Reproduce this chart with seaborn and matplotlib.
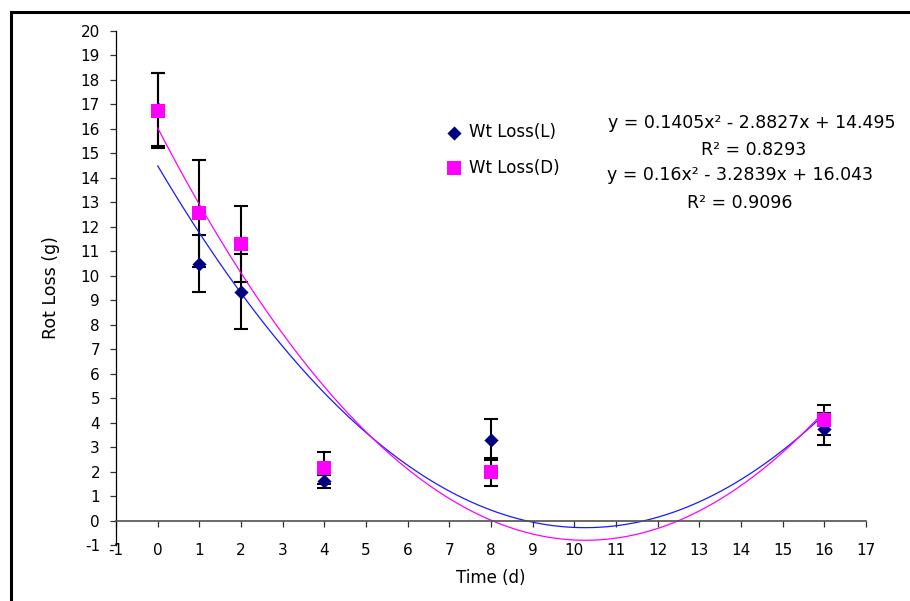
import matplotlib
matplotlib.use("Agg")
import matplotlib.pyplot as plt
from matplotlib.patches import Rectangle
import numpy as np
import pandas as pd
import seaborn as sns

# Sampling days and mean rot loss (g) with error bars for each treatment
times = [0, 1, 2, 4, 8, 16]
loss_L = [16.8, 10.5, 9.35, 1.6, 3.3, 3.75]
err_L = [1.5, 1.15, 1.53, 0.27, 0.83, 0.65]
loss_D = [16.75, 12.55, 11.3, 2.15, 1.97, 4.1]
err_D = [1.53, 2.2, 1.56, 0.65, 0.57, 0.6]

series_names = ["Wt Loss(L)", "Wt Loss(D)"]

# Quadratic trendline coefficients (a, b, c for a*x^2 + b*x + c) and R^2
coef_L = [0.1405, -2.8827, 14.495]
coef_D = [0.16, -3.2839, 16.043]
r2_L = 0.8293
r2_D = 0.9096

x_ticks = list(range(-1, 18))
y_ticks = list(range(-1, 21))

sns.set_style("white")
plt.rcParams["font.family"] = ["DejaVu Sans"]
plt.rcParams["axes.unicode_minus"] = False
plt.rcParams["text.color"] = "black"
plt.rcParams["axes.labelcolor"] = "black"

df = pd.DataFrame({
    "Time": times * 2,
    "Loss": loss_L + loss_D,
    "Err": err_L + err_D,
    "Series": [series_names[0]] * len(times) + [series_names[1]] * len(times),
})

W, H = 910, 601
fig = plt.figure(figsize=(W / 100, H / 100), dpi=100)
ax = fig.add_axes([116 / W, 1 - 545 / H, 750 / W, 514 / H])

# error bars first so the markers sit on top
for name in series_names:
    sub = df[df["Series"] == name]
    ax.errorbar(sub["Time"], sub["Loss"], yerr=sub["Err"], fmt="none",
                ecolor="black", elinewidth=1.5, capsize=5, capthick=1.5,
                zorder=2)

# fitted quadratic trendlines over the sampled range
xs = np.linspace(min(times), max(times), 200)
trend = pd.DataFrame({
    "Time": np.concatenate([xs, xs]),
    "Fit": np.concatenate([np.polyval(coef_L, xs), np.polyval(coef_D, xs)]),
    "Series": [series_names[0]] * len(xs) + [series_names[1]] * len(xs),
})
sns.lineplot(data=trend, x="Time", y="Fit", hue="Series",
             palette={series_names[0]: "#1a1aff", series_names[1]: "#ff00ff"},
             linewidth=0.9, legend=False, ax=ax, zorder=2)

sub_L = df[df["Series"] == series_names[0]]
sub_D = df[df["Series"] == series_names[1]]
sns.scatterplot(data=sub_L, x="Time", y="Loss", marker="D", s=52,
                color="#000080", linewidth=0, label=series_names[0],
                ax=ax, zorder=3)
sns.scatterplot(data=sub_D, x="Time", y="Loss", marker="s", s=88,
                color="#ff00ff", linewidth=0, label=series_names[1],
                ax=ax, zorder=4)

ax.set_xlim(-1, 17)
ax.set_ylim(-1, 20)
ax.set_xticks(x_ticks)
ax.set_yticks(y_ticks)

for side in ("top", "right"):
    ax.spines[side].set_visible(False)
ax.spines["left"].set_color("black")
ax.spines["left"].set_linewidth(0.9)
ax.spines["bottom"].set_position(("data", 0))
ax.spines["bottom"].set_color("#505050")
ax.spines["bottom"].set_linewidth(1.2)

ax.tick_params(axis="x", direction="out", length=4, width=0.9,
               color="#303030", pad=12.5, labelsize=11, labelcolor="black")
ax.tick_params(axis="y", direction="out", length=4.5, width=0.9,
               color="#303030", pad=7, labelsize=11, labelcolor="black")
ax.tick_params(axis="both", which="both", bottom=True, left=True)
ax.grid(False)

ax.set_xlabel("Time (d)", fontsize=12)
ax.set_ylabel("Rot Loss (g)", fontsize=12.5)
ax.xaxis.set_label_coords(0.5, -0.046)
ax.yaxis.set_label_coords(-0.074, 0.5)

leg = ax.legend(loc="center left", bbox_to_anchor=(0.429, 0.7685),
                frameon=False, fontsize=12, handlelength=1.0,
                handletextpad=0.35, labelspacing=1.05, borderpad=0)

eq_fs = 12.5
ax.text(0.848, 0.821,
        f"y = {coef_L[0]}x\u00b2 - {abs(coef_L[1])}x + {coef_L[2]}",
        transform=ax.transAxes, ha="center", va="center", fontsize=eq_fs)
ax.text(0.850, 0.768, f"R\u00b2 = {r2_L}",
        transform=ax.transAxes, ha="center", va="center", fontsize=eq_fs)
ax.text(0.832, 0.720,
        f"y = {coef_D[0]}x\u00b2 - {abs(coef_D[1])}x + {coef_D[2]}",
        transform=ax.transAxes, ha="center", va="center", fontsize=eq_fs)
ax.text(0.832, 0.665, f"R\u00b2 = {r2_D}",
        transform=ax.transAxes, ha="center", va="center", fontsize=eq_fs)

# chart-area border running off the right and bottom edges
fig.patches.append(Rectangle((10.5 / W, -0.05), 1.2, 1 - 12 / H + 0.05,
                             transform=fig.transFigure, fill=False,
                             edgecolor="black", linewidth=2.2, zorder=10))

fig.savefig("out.png", dpi=100)
